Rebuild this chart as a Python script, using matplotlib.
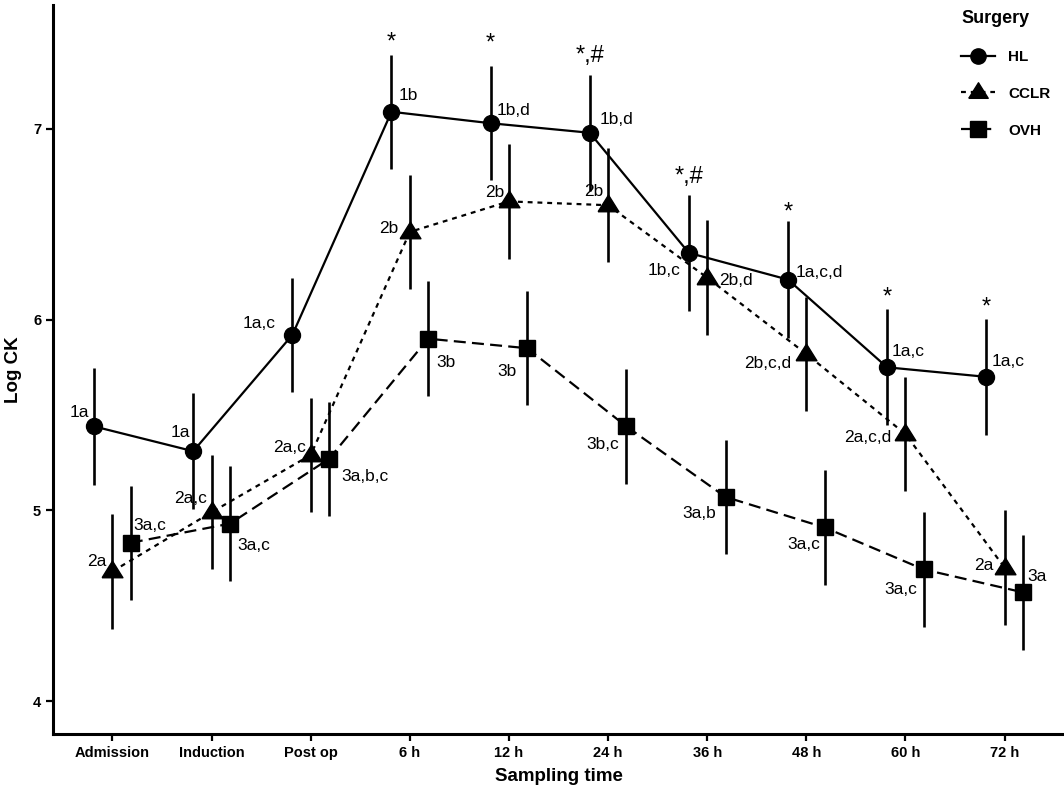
import numpy as np
import matplotlib
matplotlib.use("Agg")
import matplotlib.pyplot as plt
from matplotlib.lines import Line2D

plt.rcParams['font.family'] = ['Liberation Sans', 'DejaVu Sans']

# x categories
times = ['Admission', 'Induction', 'Post op', '6 h', '12 h', '24 h',
         '36 h', '48 h', '60 h', '72 h']

# mean Log CK per surgery group, with +/- error
hl_mean = [5.44, 5.31, 5.92, 7.09, 7.03, 6.98, 6.35, 6.21, 5.75, 5.70]
hl_err = [0.305, 0.305, 0.30, 0.30, 0.30, 0.305, 0.305, 0.305, 0.305, 0.305]
cclr_mean = [4.68, 4.99, 5.29, 6.46, 6.62, 6.60, 6.22, 5.82, 5.40, 4.70]
cclr_err = [0.30, 0.30, 0.30, 0.30, 0.30, 0.30, 0.30, 0.30, 0.30, 0.30]
ovh_mean = [4.83, 4.93, 5.27, 5.90, 5.85, 5.44, 5.07, 4.91, 4.69, 4.57]
ovh_err = [0.30, 0.30, 0.30, 0.30, 0.30, 0.30, 0.30, 0.30, 0.30, 0.30]

# letter annotations
hl_lab = ['1a', '1a', '1a,c', '1b', '1b,d', '1b,d', '1b,c', '1a,c,d', '1a,c', '1a,c']
cclr_lab = ['2a', '2a,c', '2a,c', '2b', '2b', '2b', '2b,d', '2b,c,d', '2a,c,d', '2a']
ovh_lab = ['3a,c', '3a,c', '3a,b,c', '3b', '3b', '3b,c', '3a,b', '3a,c', '3a,c', '3a']
hl_sig = ['', '', '', '*', '*', '*,#', '*,#', '*', '*', '*']


def tri_marker():
    return [(-1, -0.6), (1, -0.6), (0, 1.0), (-1, -0.6)]


def plot(ax):
    x = np.arange(1, len(times) + 1)
    dodge = 0.185

    groups = [
        ('HL', hl_mean, hl_err, hl_lab, x - dodge, 'o', 11.5, '-', None),
        ('CCLR', cclr_mean, cclr_err, cclr_lab, x, tri_marker(), 15, '--', (2.2, 2.2)),
        ('OVH', ovh_mean, ovh_err, ovh_lab, x + dodge, 's', 12, '--', (5.4, 2.8)),
    ]

    # label offsets in pixels: (ha, dx, dy)
    offsets = {
        'HL': [('right', -5, 14), ('right', -3, 19), ('right', -17, 11),
               ('left', 7, 16), ('left', 6, 13), ('left', 10, 13),
               ('right', -8, -18), ('left', 8, 7), ('left', 5, 16), ('left', 5, 15)],
        'CCLR': [('right', -6, 10), ('right', -5, 14), ('right', -5, 8),
                 ('right', -11, 3), ('right', -5, 9), ('right', -5, 14),
                 ('left', 12, -3), ('right', -15, -10), ('right', -14, -3),
                 ('right', -11, 2)],
        'OVH': [('left', 3, 17), ('left', 7, -22), ('left', 12, -18),
                ('left', 8, -24), ('right', -11, -23), ('right', -7, -18),
                ('right', -9, -17), ('right', -4, -17), ('right', -7, -20),
                ('left', 4, 16)],
    }
    sig_dy = [0, 0, 0, 69, 80, 77, 76, 67, 70, 69]

    handles = []
    for name, mean, err, labs, xs, mk, ms, ls, dash in groups:
        ax.errorbar(xs, mean, yerr=err, fmt='none', ecolor='black',
                    elinewidth=1.9, capsize=0, zorder=2)
        line, = ax.plot(xs, mean, color='black', linestyle=ls, linewidth=1.6,
                        marker=mk, markersize=ms, markerfacecolor='black',
                        markeredgecolor='black', zorder=3)
        if dash is not None:
            line.set_dashes(dash)
        handles.append(line)
        for i, t in enumerate(labs):
            ha, dx, dy = offsets[name][i]
            ax.annotate(t, (xs[i], mean[i]), xytext=(dx, dy),
                        textcoords='offset pixels', ha=ha, va='center',
                        fontsize=12.5, zorder=4)

    for i, s in enumerate(hl_sig):
        if s:
            ax.annotate(s, (x[i] - dodge, hl_mean[i]), xytext=(0, sig_dy[i]),
                        textcoords='offset pixels', ha='center', va='center',
                        fontsize=17)

    ax.set_xlim(0.4, 10.6)
    ax.set_ylim(3.827, 7.65)
    ax.set_xticks(x)
    ax.set_xticklabels(times, fontweight='bold', fontsize=10.5)
    ax.set_yticks([4, 5, 6, 7])
    ax.set_yticklabels(['4', '5', '6', '7'], fontweight='bold', fontsize=10.5)
    ax.set_xlabel('Sampling time', fontweight='bold', fontsize=13.5, labelpad=6)
    ax.set_ylabel('Log CK', fontweight='bold', fontsize=13.5, labelpad=8)
    for side in ['top', 'right']:
        ax.spines[side].set_visible(False)
    for side in ['left', 'bottom']:
        ax.spines[side].set_linewidth(2.2)
    ax.tick_params(axis='both', width=1.6, length=5, color='black')

    leg_handles = [
        Line2D([], [], color='black', linestyle='-', linewidth=1.6, marker='o', markersize=11),
        Line2D([], [], color='black', linestyle='--', dashes=(2.2, 2.2), linewidth=1.6,
               marker=tri_marker(), markersize=14),
        Line2D([], [], color='black', linestyle='--', dashes=(5.4, 2.8), linewidth=1.6,
               marker='s', markersize=11),
    ]
    ax.legend(leg_handles, ['HL', 'CCLR', 'OVH'], title='Surgery',
              loc='upper left', bbox_to_anchor=(961 / 1064, 1 - 10 / 789),
              bbox_transform=ax.figure.transFigure, frameon=False,
              borderpad=0, borderaxespad=0, handlelength=2.2,
              handletextpad=0.9, labelspacing=1.5,
              prop={'weight': 'bold', 'size': 11},
              title_fontproperties={'weight': 'bold', 'size': 13},
              alignment='left')


def main():
    fig = plt.figure(figsize=(10.64, 7.89), dpi=100)
    ax = fig.add_axes([53 / 1064, 55 / 789, 1011 / 1064, 729 / 789])
    plot(ax)
    fig.savefig('out.png', dpi=100)


if __name__ == "__main__":
    main()
